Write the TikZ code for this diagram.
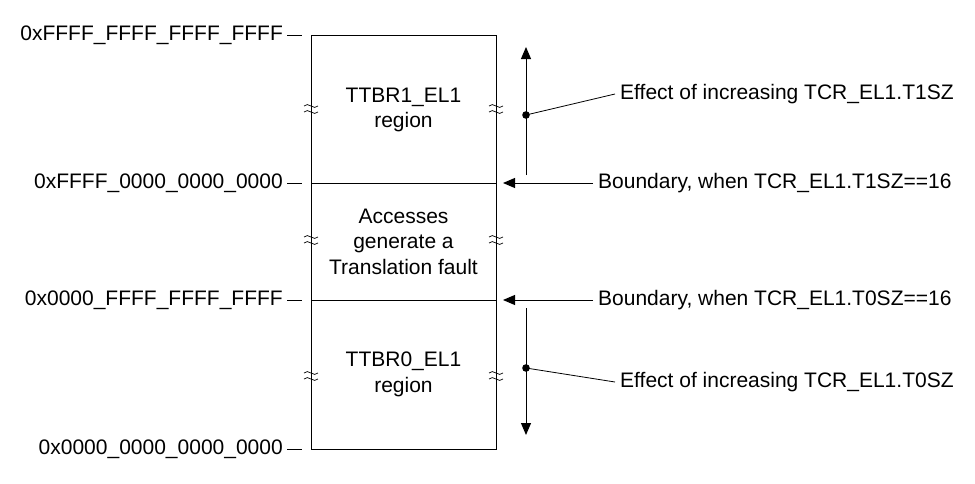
\documentclass[tikz,border=0pt]{standalone}
\usepackage{fontspec}
\setmainfont{Liberation Sans}
\usetikzlibrary{arrows.meta}

\tikzset{
  txt/.style={inner sep=0pt, font=\fontsize{21}{25.5}\selectfont},
  addr/.style={txt, anchor=east},
  note/.style={txt, anchor=west},
  region/.style={txt, align=center},
  tick/.style={line width=0.8pt},
  lead/.style={line width=0.8pt},
  move/.style={line width=1pt, -{Triangle[length=12pt,width=10pt]}},
  brk/.pic={
    \draw[line width=0.7pt] (-7,-3) .. controls (-3,-8) and (3,2) .. (7,-3);
    \draw[line width=0.7pt] (-7,3) .. controls (-3,-2) and (3,8) .. (7,3);
  }
}

\begin{document}
\begin{tikzpicture}[x=1pt,y=-1pt]
  \useasboundingbox (0,0) rectangle (975,483);
  \pgfmathsetmacro{\boxl}{311}
  \pgfmathsetmacro{\boxr}{496}
  \pgfmathsetmacro{\ytop}{35}
  \pgfmathsetmacro{\yhi}{183}
  \pgfmathsetmacro{\ylo}{300}
  \pgfmathsetmacro{\ybot}{449}
  \pgfmathsetmacro{\xarr}{526}

  % memory map
  \draw[line width=0.9pt] (\boxl,\ytop) rectangle (\boxr,\ybot);
  \draw[line width=0.9pt] (\boxl,\yhi) -- (\boxr,\yhi);
  \draw[line width=0.9pt] (\boxl,\ylo) -- (\boxr,\ylo);
  \foreach \y in {109,240,376} {
    \pic at (\boxl,\y) {brk};
    \pic at (\boxr,\y) {brk};
  }

  \node[region] (ttbr1) at (403.5,110) {TTBR1\_EL1\\region};
  \node[region] (fault) at (403.5,241.5) {Accesses\\generate a\\Translation fault};
  \node[region] (ttbr0) at (403.5,374.5) {TTBR0\_EL1\\region};

  % addresses
  \foreach \y/\lbl/\nm in {\ytop/0xFFFF\_FFFF\_FFFF\_FFFF/top,
                           \yhi/0xFFFF\_0000\_0000\_0000/hi,
                           \ylo/0x0000\_FFFF\_FFFF\_FFFF/lo,
                           \ybot/0x0000\_0000\_0000\_0000/bot} {
    \node[addr] (a\nm) at (283,\y) {\lbl};
    \draw[tick] (287,\y) -- (302,\y);
  }

  % boundaries
  \node[note] (b1) at (598,\yhi) {Boundary, when TCR\_EL1.T1SZ==16};
  \node[note] (b0) at (598,\ylo) {Boundary, when TCR\_EL1.T0SZ==16};
  \coordinate (b1tip) at (503,\yhi);
  \coordinate (b0tip) at (503,\ylo);
  \draw[move] ([xshift=-5pt]b1.west) -- (b1tip);
  \draw[move] ([xshift=-5pt]b0.west) -- (b0tip);

  % effect of increasing
  \coordinate (up0) at (\xarr,175);
  \coordinate (up1) at (\xarr,47);
  \coordinate (dn0) at (\xarr,308);
  \coordinate (dn1) at (\xarr,435);
  \draw[move] (up0) -- (up1);
  \draw[move] (dn0) -- (dn1);
  \fill (\xarr,115) circle (3.8pt) coordinate (d1);
  \fill (\xarr,368) circle (3.8pt) coordinate (d0);
  \node[note] (e1) at (620,94) {Effect of increasing TCR\_EL1.T1SZ};
  \node[note] (e0) at (620,382) {Effect of increasing TCR\_EL1.T0SZ};
  \draw[lead] (d1) -- ([xshift=-5pt]e1.west);
  \draw[lead] (d0) -- ([xshift=-5pt]e0.west);
\end{tikzpicture}
\end{document}
